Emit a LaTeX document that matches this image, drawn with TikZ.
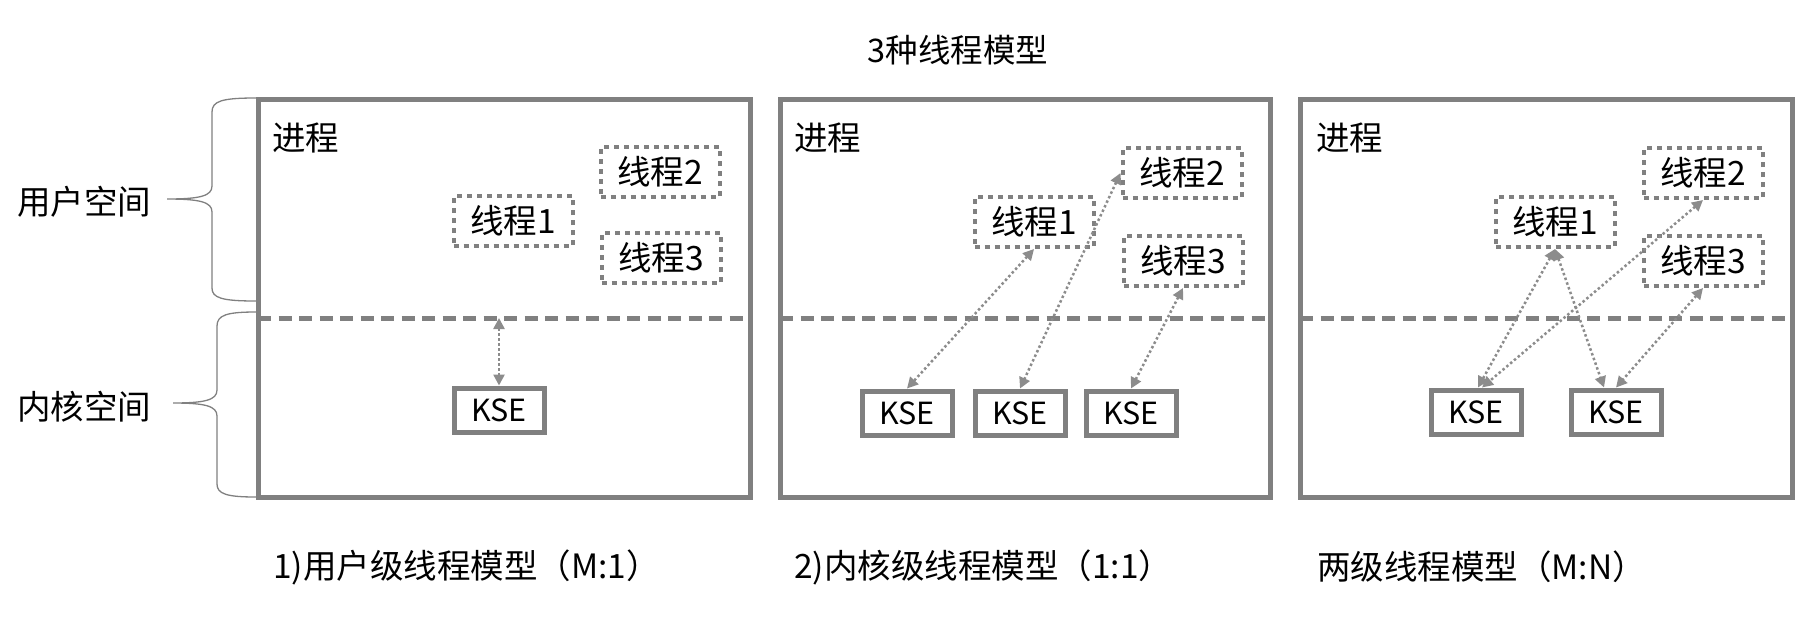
\documentclass[tikz,border=0pt]{standalone}
\usepackage{fontspec}
\setmainfont{Noto Sans CJK SC}
\usetikzlibrary{arrows.meta}
\definecolor{lg}{RGB}{128,128,128}
\definecolor{ag}{RGB}{140,140,140}
\tikzset{
  txt/.style={font=\fontsize{33.5}{38}\selectfont, inner sep=0pt},
  panel/.style={draw=lg, line width=5pt},
  split/.style={draw=lg, line width=5pt, dash pattern=on 13pt off 7.5pt},
  thread/.style={draw=lg, line width=4pt, dash pattern=on 5pt off 5pt,
    minimum width=119pt, minimum height=50pt, inner sep=0pt,
    font=\fontsize{33.5}{38}\selectfont},
  kse/.style={draw=lg, line width=5pt, minimum width=90pt, minimum height=44pt,
    inner sep=0pt, font=\fontsize{30.5}{35}\selectfont},
  link/.style={draw=ag, line width=2.5pt, dash pattern=on 2.5pt off 2.5pt,
    {Triangle[length=11pt,width=11pt]}-{Triangle[length=11pt,width=11pt]}},
  bracepath/.style={draw=lg, line width=1.3pt}
}
\begin{document}
\begin{tikzpicture}[x=1pt,y=-1pt]
\useasboundingbox (0,0) rectangle (1814,622);
% title
\node[txt, font=\fontsize{32.5}{38}\selectfont] (title) at (958,50) {3种线程模型};
% braces
\draw[bracepath] (256,98) .. controls (222,98) and (212,101) .. (212,112) -- (212,186)
  .. controls (212,196) and (200,199) .. (167,199)
  .. controls (200,199) and (212,202) .. (212,212) -- (212,288)
  .. controls (212,298) and (222,301) .. (256,301);
\draw[bracepath] (256,312) .. controls (227,312) and (217,315) .. (217,326) -- (217,390)
  .. controls (217,400) and (205,403) .. (173,403)
  .. controls (205,403) and (217,406) .. (217,416) -- (217,484)
  .. controls (217,494) and (227,497) .. (256,497);
\node[txt] (user) at (84,202) {用户空间};
\node[txt] (kernel) at (84,407) {内核空间};

% ---------- panel 1
\draw[panel] (258,99) rectangle (750,497);
\coordinate (d1l) at (258,318);
\coordinate (d1r) at (750,318);
\draw[split] (d1l) -- (d1r);
\node[txt, anchor=west] (p1) at (272,138) {进程};
\node[thread] (a1) at (513,221) {线程1};
\node[thread] (a2) at (660,172) {线程2};
\node[thread] (a3) at (661,258) {线程3};
\node[kse] (ak) at (499,410) {KSE};
\coordinate (ad) at (499,318);
\draw[link] (ad) -- (ak.north);
\node[txt, anchor=west] (cap1) at (273,567) {1)用户级线程模型（M:1）};

% ---------- panel 2
\draw[panel] (780,99) rectangle (1270,497);
\coordinate (d2l) at (780,318);
\coordinate (d2r) at (1270,318);
\draw[split] (d2l) -- (d2r);
\node[txt, anchor=west] (p2) at (794,138) {进程};
\node[thread] (b1) at (1034,222) {线程1};
\node[thread] (b2) at (1182,173) {线程2};
\node[thread] (b3) at (1183,261) {线程3};
\node[kse] (bk1) at (907,413) {KSE};
\node[kse] (bk2) at (1020,413) {KSE};
\node[kse] (bk3) at (1131,413) {KSE};
\draw[link] (b1.south) -- (bk1.north);
\draw[link] (b2.west) -- (bk2.north);
\draw[link] (b3.south) -- (bk3.north);
\node[txt, anchor=west] (cap2) at (794,567) {2)内核级线程模型（1:1）};

% ---------- panel 3
\draw[panel] (1300,99) rectangle (1792,497);
\coordinate (d3l) at (1300,318);
\coordinate (d3r) at (1792,318);
\draw[split] (d3l) -- (d3r);
\node[txt, anchor=west] (p3) at (1316,138) {进程};
\node[thread] (c1) at (1555,222) {线程1};
\node[thread] (c2) at (1703,173) {线程2};
\node[thread] (c3) at (1703,261) {线程3};
\node[kse] (ck1) at (1476,412) {KSE};
\node[kse] (ck2) at (1616,412) {KSE};
\draw[link] (c1.south) -- ([xshift=2pt]ck1.north);
\draw[link] (c1.south) -- ([xshift=-12pt]ck2.north);
\draw[link] (c2.south) -- ([xshift=6pt]ck1.north);
\draw[link] (c3.south) -- ([xshift=0pt]ck2.north);
\node[txt, anchor=west] (cap3) at (1317,567) {两级线程模型（M:N）};
\end{tikzpicture}
\end{document}
